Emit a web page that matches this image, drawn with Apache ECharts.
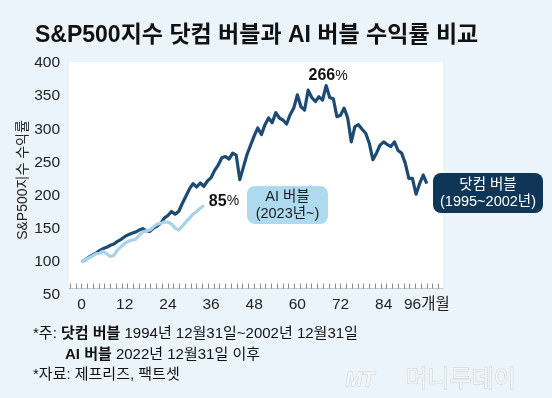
<!DOCTYPE html>
<html><head><meta charset="utf-8">
<script src="https://cdn.jsdelivr.net/npm/echarts@6/dist/echarts.min.js"></script>
<style>html,body{margin:0;padding:0;background:#EBF4FB;}#c{width:552px;height:398px;}</style>
</head><body><div id="c"></div>
<script>
// Month index 0..96 (dot-com: Dec 1994 = 100)
const dotcom = [100,103,107,110,113,117,120,122,125,127,131,134,138,141,143,145,148,150,147,146,
151,154,158,166,170,176,172,176,188,199,210,218,213,219,214,222,227,238,246,257,
259,255,264,261,224,243,262,276,290,302,292,307,317,310,325,317,314,308,322,332,
352,334,329,359,348,342,349,344,366,348,346,319,321,332,317,281,304,307,300,294,
279,254,264,276,281,277,274,281,268,264,249,226,226,202,218,231,218];
// Month index 0..34 (AI: Dec 2022 = 100)
const aiBubble = [100,103,106,109,112,113,116,112,108,110,118,123,128,131,133,134,140,145,147,148,
153,157,158,160,160,157,151,148,154,160,166,172,176,181,185];
const xLabelValues = [0,12,24,36,48,60,72,84,96];
const xLabelTexts = ['0','12','24','36','48','60','72','84','96개월'];
const yTicks = [50,100,150,200,250,300,350,400];

const FONT = '"Liberation Sans","Noto Sans CJK KR",sans-serif';
const chart = echarts.init(document.getElementById('c'));
const dotData = dotcom.map((v,i)=>[i,v]);
const aiData = aiBubble.map((v,i)=>[i,v]);
let peakIdx = 0; dotcom.forEach((v,i)=>{ if(v>dotcom[peakIdx]) peakIdx=i; });
const rulerTicks = []; for(let t=-3.2;t<=100.6;t+=1.6) rulerTicks.push(+t.toFixed(2));
const noteRich = {n:{fontFamily:FONT,fontSize:15,fill:'#111'},b:{fontFamily:FONT,fontSize:15,fontWeight:'bold',fill:'#111'}};

chart.setOption({
  backgroundColor:'#EBF4FB',
  animation:false,
  title:{text:'S&P500지수 닷컴 버블과 AI 버블 수익률 비교',left:35,top:24,padding:0,
    textStyle:{fontFamily:FONT,fontSize:23,fontWeight:'bold',color:'#111'}},
  graphic:[
    {type:'rect',z:0,shape:{x:69,y:62,width:374,height:227},style:{fill:'#ffffff'}},
    {type:'text',z:10,x:23,y:180,rotation:Math.PI/2,style:{text:'S&P500지수 수익률',font:'14px '+FONT,fill:'#222',
      align:'center',verticalAlign:'middle'}},
    {type:'rect',z:10,shape:{x:247,y:186,width:81,height:38,r:8},style:{fill:'#AEDAEF'}},
    {type:'text',z:11,x:287.5,y:205.5,style:{text:'AI 버블\n(2023년~)',fill:'#1a1a1a',font:'14.5px '+FONT,
      align:'center',verticalAlign:'middle',lineHeight:17}},
    {type:'rect',z:10,shape:{x:433,y:173,width:110,height:40,r:8},style:{fill:'#0F3557'}},
    {type:'text',z:11,x:488,y:193.5,style:{text:'닷컴 버블\n(1995~2002년)',fill:'#ffffff',font:'14.5px '+FONT,
      align:'center',verticalAlign:'middle',lineHeight:17}},
    {type:'text',left:33,top:326,z:10,style:{rich:noteRich,text:'{n|*주: }{b|닷컴 버블}{n| 1994년 12월31일~2002년 12월31일}'}},
    {type:'text',left:65,top:347,z:10,style:{rich:noteRich,text:'{b|AI 버블}{n| 2022년 12월31일 이후}'}},
    {type:'text',left:33,top:367,z:10,style:{rich:noteRich,text:'{n|*자료: 제프리즈, 팩트셋}'}},
    {type:'text',left:345,top:370,z:10,style:{text:'MT',font:'italic bold 20px '+FONT,fill:'#F2F6F9',stroke:'#C9D1D8',lineWidth:1}},
    {type:'text',left:405,top:368,z:10,style:{text:'머니투데이',font:'24px '+FONT,fill:'#F2F6F9',stroke:'#C9D1D8',lineWidth:1}}
  ],
  grid:{left:69,width:374,top:63,height:232,containLabel:false},
  xAxis:{type:'value',min:-3.5,max:100.5,offset:-6.5,
    axisLine:{show:true,lineStyle:{color:'#C8C8C8',width:1}},
    axisTick:{show:true,inside:true,length:5,customValues:rulerTicks,lineStyle:{color:'#8A8A8A',width:1}},
    splitLine:{show:false},
    axisLabel:{customValues:xLabelValues,margin:8,fontFamily:FONT,fontSize:15.5,color:'#222',
      formatter:(v)=>xLabelTexts[xLabelValues.indexOf(v)] ?? String(v)}},
  yAxis:{type:'value',min:50,max:400,interval:50,
    axisLine:{show:false},axisTick:{show:false},splitLine:{show:false},
    axisLabel:{customValues:yTicks,margin:9,fontFamily:FONT,fontSize:15.5,color:'#222'}},
  series:[
    {type:'line',name:'닷컴 버블',data:dotData,showSymbol:false,z:3,
      lineStyle:{color:'#1D4A72',width:3.2,join:'round'},
      markPoint:{symbol:'rect',symbolSize:[1,1],itemStyle:{color:'rgba(0,0,0,0)'},
        label:{show:true,position:'top',distance:1,offset:[2,0],
          formatter:()=>'{b|'+Math.round(dotcom[peakIdx]-100)+'}{p|%}',
          rich:{b:{fontFamily:FONT,fontSize:16,fontWeight:'bold',color:'#111'},p:{fontFamily:FONT,fontSize:14,color:'#111'}}},
        data:[{coord:[peakIdx,dotcom[peakIdx]]}]}},
    {type:'line',name:'AI 버블',data:aiData,showSymbol:false,z:4,
      lineStyle:{color:'#A9D3EA',width:3.2,join:'round'},
      endLabel:{show:true,distance:5,offset:[0,-4],
        formatter:()=>'{b|'+Math.round(aiBubble[aiBubble.length-1]-100)+'}{p|%}',
        rich:{b:{fontFamily:FONT,fontSize:16,fontWeight:'bold',color:'#111'},p:{fontFamily:FONT,fontSize:14,color:'#111'}}}}
  ]
});
</script></body></html>
